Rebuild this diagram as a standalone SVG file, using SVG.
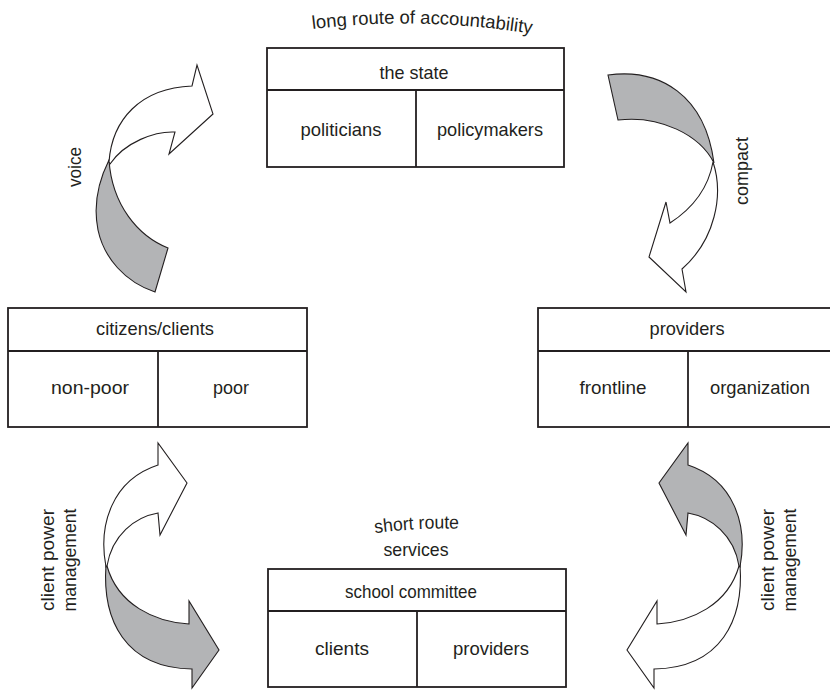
<svg xmlns="http://www.w3.org/2000/svg" width="830" height="690" viewBox="0 0 830 690">
<style>
.box{fill:#fff;stroke:#231f20;stroke-width:1.8}
.ln{stroke:#231f20;stroke-width:1.8;fill:none}
.t{font-family:"Liberation Sans",Arial,sans-serif;font-size:18.5px;fill:#231f20;text-anchor:middle}
.w{fill:#fff;stroke:#231f20;stroke-width:1.1;stroke-linejoin:miter}
.g{fill:#b3b4b6;stroke:#231f20;stroke-width:1.1;stroke-linejoin:miter}
</style>
<defs>
<path id="arcLong" d="M 304 30 Q 420 15 540 35"/>
<path id="arcShort" d="M 370 534 Q 416 527 464 529"/>
</defs>
<rect width="830" height="690" fill="#fff"/>

<g id="connectors">
  <g id="voice-arrow">
    <path class="g" d="M 109,160 C 99,180 93,205 98,230 C 104,258 125,282 155,292 L 168,248 C 138,236 112,205 109,160 Z"/>
    <path class="w" d="M 109,162 C 112,120 140,88 192,86 L 197,65 L 213,114 L 169,154 L 175,132 C 155,131 125,142 110,164 Z"/>
  </g>
  <g id="compact-arrow">
    <path class="g" d="M 608,75 C 660,68 705,95 714,163 C 700,135 660,115 618,120 Z"/>
    <path class="w" d="M 713,162 C 724,195 715,240 682,269 L 686,292 L 649,257 L 666,202 L 670,223 C 690,210 708,190 713,162 Z"/>
  </g>
  <g id="client-left-arrow">
    <path class="g" d="M 106,565 C 102,620 125,668 192,669 L 192,688 L 219,650 L 189,601 L 189,624 C 155,622 118,605 107,566 Z"/>
    <path class="w" d="M 106,567 C 98,525 112,480 158,465 L 158,443 L 187,483 L 160,535 L 158,513 C 135,517 112,535 107,566 Z"/>
  </g>
  <g id="client-right-arrow" transform="translate(846,0) scale(-1,1)">
    <path class="w" d="M 106,565 C 102,620 125,668 192,669 L 192,688 L 219,650 L 189,601 L 189,624 C 155,622 118,605 107,566 Z"/>
    <path class="g" d="M 106,567 C 98,525 112,480 158,465 L 158,443 L 187,483 L 160,535 L 158,513 C 135,517 112,535 107,566 Z"/>
  </g>
</g>

<g id="labels">
  <text class="t" font-size="19"><textPath href="#arcLong" startOffset="50%" textLength="220" lengthAdjust="spacingAndGlyphs">long route of accountability</textPath></text>
  <text class="t"><textPath href="#arcShort" startOffset="50%" textLength="84" lengthAdjust="spacingAndGlyphs">short route</textPath></text>
  <text class="t" x="416" y="556" textLength="65" lengthAdjust="spacingAndGlyphs">services</text>
  <text class="t" transform="translate(81,167) rotate(-90)" textLength="40" lengthAdjust="spacingAndGlyphs">voice</text>
  <text class="t" transform="translate(748,171) rotate(-90)" textLength="68" lengthAdjust="spacingAndGlyphs">compact</text>
  <text class="t" transform="translate(54,560) rotate(-90)" textLength="102" lengthAdjust="spacingAndGlyphs">client power</text>
  <text class="t" transform="translate(76,560) rotate(-90)" textLength="103" lengthAdjust="spacingAndGlyphs">management</text>
  <text class="t" transform="translate(774,560) rotate(-90)" textLength="102" lengthAdjust="spacingAndGlyphs">client power</text>
  <text class="t" transform="translate(796,560) rotate(-90)" textLength="103" lengthAdjust="spacingAndGlyphs">management</text>
</g>

<g id="state">
  <rect class="box" x="267" y="48" width="297" height="119"/>
  <line class="ln" x1="267" y1="90" x2="564" y2="90"/>
  <line class="ln" x1="416" y1="90" x2="416" y2="167"/>
  <text class="t" x="414" y="79" textLength="69" lengthAdjust="spacingAndGlyphs">the state</text>
  <text class="t" x="341" y="136" textLength="81" lengthAdjust="spacingAndGlyphs">politicians</text>
  <text class="t" x="490" y="136" textLength="106" lengthAdjust="spacingAndGlyphs">policymakers</text>
</g>

<g id="citizens">
  <rect class="box" x="8" y="308" width="299" height="119"/>
  <line class="ln" x1="8" y1="351" x2="307" y2="351"/>
  <line class="ln" x1="158" y1="351" x2="158" y2="427"/>
  <text class="t" x="155" y="335" textLength="118" lengthAdjust="spacingAndGlyphs">citizens/clients</text>
  <text class="t" x="90" y="394" textLength="78" lengthAdjust="spacingAndGlyphs">non-poor</text>
  <text class="t" x="231" y="394" textLength="36" lengthAdjust="spacingAndGlyphs">poor</text>
</g>

<g id="providers">
  <rect class="box" x="538" y="308" width="320" height="119"/>
  <line class="ln" x1="538" y1="351" x2="858" y2="351"/>
  <line class="ln" x1="688" y1="351" x2="688" y2="427"/>
  <text class="t" x="687" y="335" textLength="75" lengthAdjust="spacingAndGlyphs">providers</text>
  <text class="t" x="613" y="394" textLength="67" lengthAdjust="spacingAndGlyphs">frontline</text>
  <text class="t" x="760" y="394" textLength="100" lengthAdjust="spacingAndGlyphs">organization</text>
</g>

<g id="school">
  <rect class="box" x="268" y="569" width="298" height="118"/>
  <line class="ln" x1="268" y1="611" x2="566" y2="611"/>
  <line class="ln" x1="417" y1="611" x2="417" y2="687"/>
  <text class="t" x="411" y="598" textLength="132" lengthAdjust="spacingAndGlyphs">school committee</text>
  <text class="t" x="342" y="655" textLength="54" lengthAdjust="spacingAndGlyphs">clients</text>
  <text class="t" x="491" y="655" textLength="76" lengthAdjust="spacingAndGlyphs">providers</text>
</g>
</svg>
